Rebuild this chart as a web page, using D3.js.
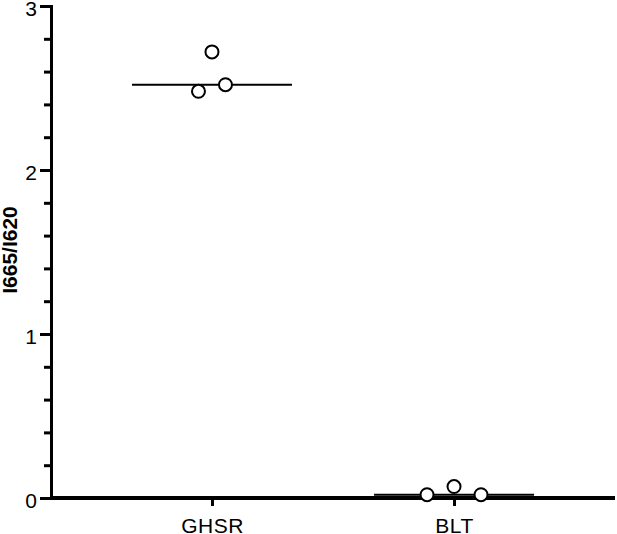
<!DOCTYPE html>
<html>
<head>
<meta charset="UTF-8">
<script src="https://d3js.org/d3.v7.min.js"></script>
<style>
  body { margin: 0; background: #fff; }
  svg text { font-family: "Liberation Sans", Arial, Helvetica, sans-serif; fill: #000; }
  .axis path, .axis line { stroke: #000; }
  .Dot { fill: #fff; stroke: #000; stroke-width: 2px; }
  .Median { stroke: #000; stroke-width: 2px; }
</style>
</head>
<body>
<svg class="Chart"></svg>
<script>
// data
var Categories = ["GHSR", "BLT"];
var GhsrValues = [2.48, 2.72, 2.52];
var BltValues = [0.02, 0.07, 0.02];
var YTicks = [0, 1, 2, 3];
var YLabel = "I665/I620";

var Width = 617, Height = 534;
var Left = 51, Right = 615, Top = 6, Bottom = 498;

var Svg = d3.select(".Chart").attr("width", Width).attr("height", Height);

var XScale = d3.scalePoint().domain(Categories).range([Left, Right]).padding(0.665);
var YScale = d3.scaleLinear().domain([0, 3]).range([Bottom, Top]);

// minor ticks
Svg.append("g")
  .attr("class", "axis")
  .attr("transform", "translate(" + Left + ",0)")
  .call(d3.axisLeft(YScale).tickValues(d3.range(0, 3.01, 0.2)).tickSize(7).tickFormat(""))
  .call(function (g) { g.select(".domain").remove(); })
  .selectAll("line").attr("stroke-width", 3);

// major ticks + axis line
var YAxis = Svg.append("g")
  .attr("class", "axis")
  .attr("transform", "translate(" + Left + ",0)")
  .call(d3.axisLeft(YScale).tickValues(YTicks).tickSize(11).tickSizeOuter(0).tickPadding(3).tickFormat(d3.format("d")));
YAxis.select(".domain").attr("stroke-width", 3).attr("stroke-linecap", "square");
YAxis.selectAll("line").attr("stroke-width", 3);
YAxis.selectAll("text").style("font-size", "21px").attr("dy", "9.5px");

var XAxis = Svg.append("g")
  .attr("class", "axis")
  .attr("transform", "translate(0," + Bottom + ")")
  .call(d3.axisBottom(XScale).tickSize(8).tickSizeOuter(0).tickPadding(12));
XAxis.select(".domain").attr("stroke-width", 4).attr("d", "M" + Left + ",0H" + Right);
XAxis.selectAll("line").attr("stroke-width", 3);
XAxis.selectAll("text").style("font-size", "21px").style("letter-spacing", "0.5px");

Svg.append("text")
  .attr("transform", "translate(16.5,250) rotate(-90)")
  .attr("text-anchor", "middle")
  .style("font-size", "21px")
  .style("font-weight", "bold")
  .text(YLabel);

// simple scatter layout: points that overlap share a row and spread sideways
function Layout(Values) {
  var Items = Values.map(function (v, i) { return { v: v, i: i, y: YScale(v) }; });
  var Sorted = Items.slice().sort(function (a, b) { return a.y - b.y; });
  var Rows = [];
  Sorted.forEach(function (d) {
    var Row = Rows[Rows.length - 1];
    if (Row && Math.abs(d.y - Row[0].y) < 15) Row.push(d); else Rows.push([d]);
  });
  Rows.forEach(function (Row) {
    Row.sort(function (a, b) { return a.i - b.i; });
    Row.forEach(function (d, k) { d.dx = (k - (Row.length - 1) / 2) * 27; });
  });
  return Items;
}

var Groups = [GhsrValues, BltValues];
Categories.forEach(function (Cat, c) {
  var Values = Groups[c];
  var Med = d3.median(Values);
  Svg.append("line")
    .attr("class", "Median")
    .attr("x1", XScale(Cat) - 80).attr("x2", XScale(Cat) + 80)
    .attr("y1", YScale(Med)).attr("y2", YScale(Med));
  Svg.selectAll(".Dot" + c)
    .data(Layout(Values))
    .enter()
    .append("circle")
    .attr("class", "Dot")
    .attr("cx", function (d) { return XScale(Cat) + d.dx; })
    .attr("cy", function (d) { return d.y; })
    .attr("r", 6.5);
});
</script>
</body>
</html>
